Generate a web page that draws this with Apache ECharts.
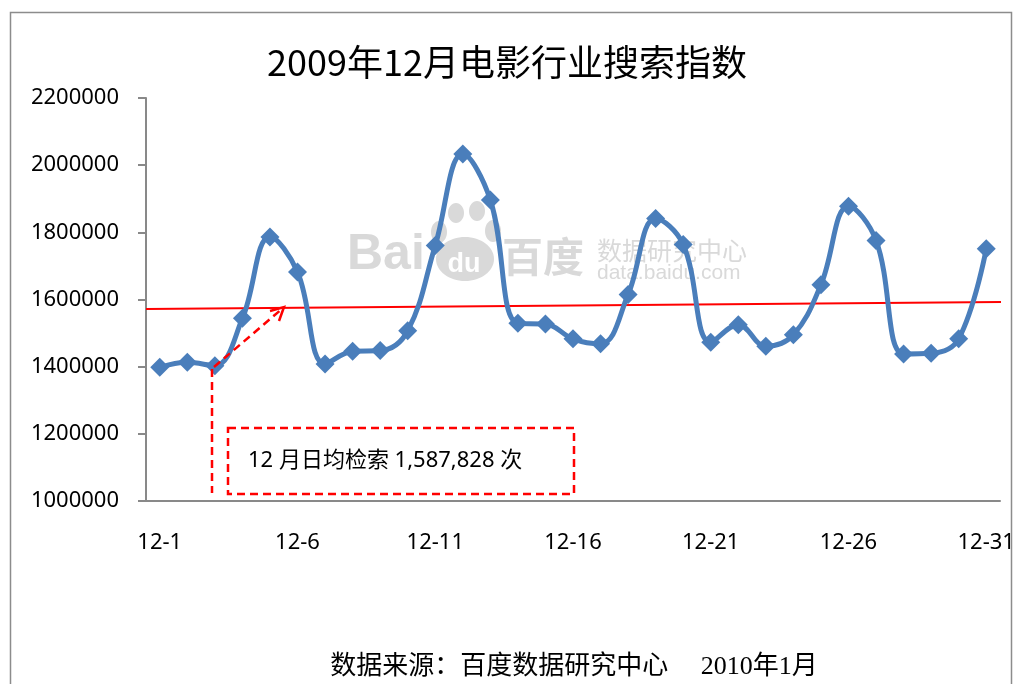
<!DOCTYPE html>
<html>
<head>
<meta charset="utf-8">
<script src="https://cdn.jsdelivr.net/npm/echarts@6/dist/echarts.min.js"></script>
<style>
  html, body { margin: 0; padding: 0; background: #fff; }
  #chart { width: 1014px; height: 684px; }
</style>
</head>
<body>
<div id="chart"></div>
<script>
// 日期
const days = []
for (let d = 1; d <= 31; d++) days.push('12-' + d)

// 每日搜索指数
const searchIndex = [
  1398000, 1413000, 1403000, 1544000, 1786000, 1682000, 1408000, 1446000,
  1448000, 1507000, 1761000, 2033000, 1896000, 1529000, 1527000, 1483000,
  1468000, 1615000, 1841000, 1764000, 1473000, 1525000, 1461000, 1495000,
  1644000, 1878000, 1776000, 1438000, 1440000, 1483000, 1751000
]

// 趋势线两端
const trendX = [-0.5, 30.77]
const trendY = [1571700, 1592500]

const yTicks = { min: 1000000, max: 2200000, interval: 200000 }

const chart = echarts.init(document.getElementById('chart'))

const grey = '#d9d9d9'
const red = '#ff0000'

const option = {
  backgroundColor: '#fff',
  animation: false,
  title: {
    text: '2009年12月电影行业搜索指数',
    left: 'center',
    top: 39,
    textStyle: {
      fontFamily: 'Noto Sans CJK SC',
      fontSize: 36,
      fontWeight: 'normal',
      color: '#000'
    }
  },
  grid: { left: 146, right: 14, top: 98, bottom: 183, containLabel: false, outerBoundsMode: 'none' },
  xAxis: [
    {
      type: 'category',
      data: days,
      boundaryGap: true,
      axisLine: { onZero: false, lineStyle: { color: '#898989', width: 2 } },
      axisTick: { interval: 4, inside: true, length: 8, lineStyle: { color: '#898989', width: 2 } },
      axisLabel: { interval: 4, margin: 31, fontSize: 22, fontFamily: 'Noto Sans', color: '#000' }
    },
    {
      type: 'value',
      min: -0.5,
      max: 30.5,
      show: false
    }
  ],
  yAxis: {
    type: 'value',
    min: yTicks.min,
    max: yTicks.max,
    interval: yTicks.interval,
    splitLine: { show: false },
    axisLine: { show: true, onZero: false, lineStyle: { color: '#898989', width: 2 } },
    axisTick: { show: true, length: 8, lineStyle: { color: '#898989', width: 2 } },
    axisLabel: {
      margin: 27, fontSize: 22, fontFamily: 'Noto Sans', color: '#000',
      formatter: v => String(v)
    }
  },
  series: [
    {
      name: '搜索指数',
      type: 'line',
      data: searchIndex,
      smooth: 0.4,
      symbol: 'diamond',
      symbolSize: 19,
      showAllSymbol: true,
      z: 5,
      lineStyle: { color: '#4a7ebb', width: 5 },
      itemStyle: { color: '#4a7ebb' }
    },
    {
      name: '日均',
      type: 'line',
      xAxisIndex: 1,
      data: trendX.map((x, i) => [x, trendY[i]]),
      symbol: 'none',
      clip: false,
      z: 4,
      lineStyle: { color: red, width: 2 }
    }
  ],
  graphic: [
    // 外框
    {
      type: 'rect', z: -10,
      shape: { x: 10.5, y: 12.5, width: 1001, height: 720 },
      style: { fill: 'none', stroke: '#8c8c8c', lineWidth: 1.5 }
    },
    // 水印
    {
      type: 'group', z: 0, silent: true,
      children: [
        { type: 'text', x: 347, y: 255, style: { text: 'Bai', fill: grey, font: 'bold 50px "Liberation Sans"', verticalAlign: 'middle' } },
        { type: 'ellipse', shape: { cx: 465, cy: 259, rx: 29, ry: 22 }, style: { fill: grey } },
        { type: 'ellipse', shape: { cx: 439, cy: 232, rx: 8, ry: 11 }, style: { fill: grey } },
        { type: 'ellipse', shape: { cx: 456, cy: 213, rx: 8, ry: 10 }, style: { fill: grey } },
        { type: 'ellipse', shape: { cx: 477, cy: 211, rx: 8, ry: 10 }, style: { fill: grey } },
        { type: 'ellipse', shape: { cx: 493, cy: 231, rx: 8, ry: 11 }, style: { fill: grey } },
        { type: 'text', x: 464, y: 265, style: { text: 'du', fill: '#fff', font: 'bold 27px "Liberation Sans"', align: 'center', verticalAlign: 'middle' } },
        { type: 'text', x: 502, y: 256, style: { text: '百度', fill: grey, font: 'bold 41px "Noto Sans CJK SC"', verticalAlign: 'middle' } },
        { type: 'text', x: 597, y: 250, style: { text: '数据研究中心', fill: grey, font: '25px "Noto Sans CJK SC"', verticalAlign: 'middle' } },
        { type: 'text', x: 597, y: 273, style: { text: 'data.baidu.com', fill: grey, font: '21px "Liberation Sans"', verticalAlign: 'middle' } }
      ]
    },
    // 注释：虚线与箭头
    {
      type: 'line', z: 10,
      shape: { x1: 212, y1: 369, x2: 212, y2: 493 },
      style: { stroke: red, lineWidth: 2.5, lineDash: [8, 5] }
    },
    {
      type: 'line', z: 10,
      shape: { x1: 214, y1: 367, x2: 283, y2: 308 },
      style: { stroke: red, lineWidth: 2.5, lineDash: [8, 5] }
    },
    {
      type: 'polyline', z: 10,
      shape: { points: [[270, 311], [284, 307], [279, 321]] },
      style: { stroke: red, lineWidth: 2.5, fill: 'none' }
    },
    {
      type: 'rect', z: 10,
      shape: { x: 228, y: 428, width: 346, height: 66 },
      style: { fill: 'none', stroke: red, lineWidth: 2.5, lineDash: [8, 5] }
    },
    {
      type: 'text', z: 10,
      x: 248, y: 461,
      style: {
        text: '12 月日均检索 1,587,828 次',
        fill: '#000',
        font: '22px "Noto Sans", "Noto Sans CJK SC"',
        verticalAlign: 'middle'
      }
    },
    // 数据来源
    {
      type: 'text', z: 10,
      x: 574, y: 667,
      style: {
        text: '数据来源：百度数据研究中心     2010年1月',
        fill: '#000',
        font: '26px "Liberation Serif", "Noto Sans CJK SC"',
        align: 'center',
        verticalAlign: 'middle'
      }
    }
  ]
}

chart.setOption(option)
</script>
</body>
</html>
